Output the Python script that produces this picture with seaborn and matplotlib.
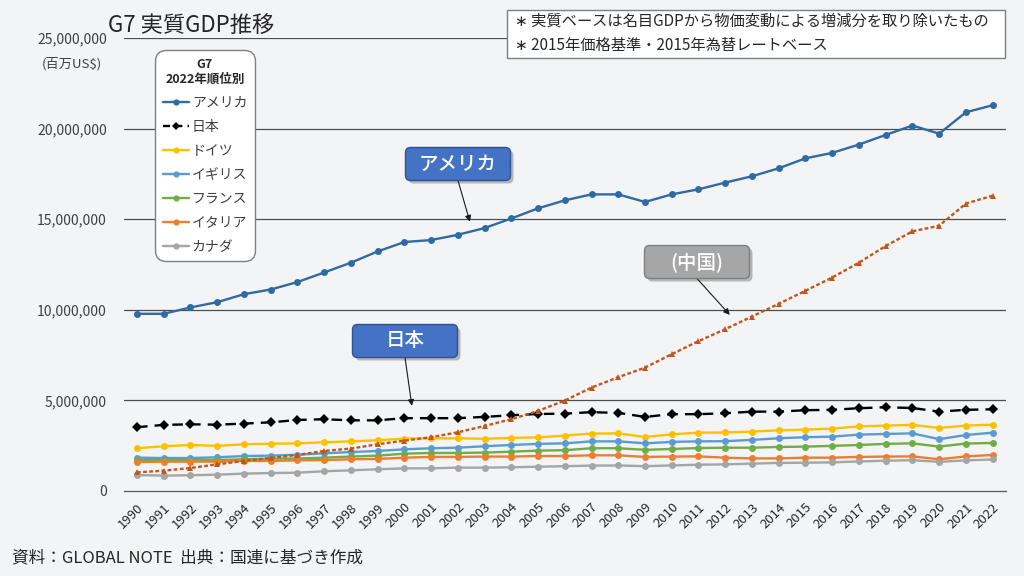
import numpy as np
import pandas as pd
import matplotlib
matplotlib.use("Agg")
import matplotlib.pyplot as plt
import seaborn as sns
from matplotlib.patches import FancyBboxPatch, Rectangle
from matplotlib.lines import Line2D

# ---------------- data (百万US$, values given in units of 1,000,000) ----------------
UNIT = 1_000_000
years = list(range(1990, 2023))
usa = [9.78, 9.78, 10.13, 10.42, 10.86, 11.12, 11.53, 12.06, 12.60, 13.22, 13.74, 13.85, 14.14,
       14.51, 15.04, 15.60, 16.04, 16.37, 16.37, 15.95, 16.37, 16.65, 17.02, 17.37, 17.81, 18.36,
       18.66, 19.12, 19.65, 20.17, 19.72, 20.90, 21.29]
japan = [3.52, 3.65, 3.68, 3.66, 3.72, 3.79, 3.92, 3.96, 3.90, 3.90, 4.02, 4.02, 4.02, 4.09, 4.18,
         4.25, 4.27, 4.35, 4.31, 4.09, 4.24, 4.24, 4.29, 4.38, 4.38, 4.46, 4.48, 4.57, 4.62, 4.58,
         4.38, 4.48, 4.51]
china = [1.03, 1.12, 1.27, 1.47, 1.66, 1.82, 1.99, 2.21, 2.34, 2.58, 2.78, 2.97, 3.24, 3.59, 3.96,
         4.42, 4.99, 5.71, 6.28, 6.81, 7.55, 8.27, 8.93, 9.63, 10.33, 11.05, 11.78, 12.60, 13.52,
         14.33, 14.64, 15.86, 16.30]
germany = [2.36, 2.47, 2.54, 2.49, 2.58, 2.61, 2.63, 2.69, 2.74, 2.80, 2.89, 2.91, 2.91, 2.88, 2.93,
           2.96, 3.06, 3.17, 3.18, 2.98, 3.13, 3.22, 3.23, 3.28, 3.35, 3.39, 3.44, 3.57, 3.61, 3.65,
           3.48, 3.61, 3.66]
uk = [1.84, 1.82, 1.82, 1.86, 1.93, 1.95, 2.00, 2.08, 2.15, 2.21, 2.30, 2.36, 2.39, 2.47, 2.54,
      2.60, 2.63, 2.74, 2.74, 2.63, 2.71, 2.74, 2.75, 2.82, 2.91, 2.97, 3.00, 3.11, 3.15, 3.18,
      2.86, 3.09, 3.22]
france = [1.71, 1.71, 1.71, 1.71, 1.75, 1.79, 1.79, 1.84, 1.90, 1.95, 2.06, 2.10, 2.10, 2.12, 2.17,
          2.23, 2.25, 2.36, 2.36, 2.27, 2.32, 2.37, 2.39, 2.39, 2.43, 2.45, 2.49, 2.54, 2.60, 2.63,
          2.45, 2.62, 2.65]
italy = [1.60, 1.62, 1.62, 1.62, 1.66, 1.66, 1.69, 1.71, 1.75, 1.77, 1.84, 1.88, 1.88, 1.90, 1.90,
         1.93, 1.93, 1.97, 1.97, 1.88, 1.90, 1.91, 1.84, 1.80, 1.80, 1.84, 1.84, 1.88, 1.90, 1.91,
         1.75, 1.91, 1.99]
canada = [0.88, 0.85, 0.87, 0.90, 0.96, 0.99, 1.01, 1.09, 1.14, 1.20, 1.25, 1.25, 1.29, 1.29, 1.31,
          1.34, 1.37, 1.40, 1.41, 1.37, 1.41, 1.45, 1.47, 1.51, 1.55, 1.56, 1.58, 1.63, 1.67, 1.70,
          1.61, 1.69, 1.74]

countries = ["アメリカ", "日本", "ドイツ", "イギリス", "フランス", "イタリア", "カナダ", "中国"]
series = [usa, japan, germany, uk, france, italy, canada, china]
legend_countries = countries[:7]
y_ticks = [0, 5_000_000, 10_000_000, 15_000_000, 20_000_000, 25_000_000]

# ---------------- styles ----------------
palette = {"アメリカ": "#2F6AA3", "日本": "#000000", "ドイツ": "#FFC000", "イギリス": "#5B9BD5",
           "フランス": "#70AD47", "イタリア": "#ED7D31", "カナダ": "#A5A5A5", "中国": "#C0561A"}
markers = {"アメリカ": "o", "日本": "D", "ドイツ": "o", "イギリス": "o", "フランス": "o",
           "イタリア": "o", "カナダ": "o", "中国": "^"}
dashes = {"アメリカ": "", "日本": (4.5, 3), "ドイツ": "", "イギリス": "", "フランス": "",
          "イタリア": "", "カナダ": "", "中国": (1.6, 1.0)}

rows = []
for c, vals in zip(countries, series):
    for i, (yr, v) in enumerate(zip(years, vals)):
        rows.append({"country": c, "idx": i, "gdp": v * UNIT})
df = pd.DataFrame(rows)

BG = "#F3F4F6"
sns.set_theme(style="white")
plt.rcParams["font.family"] = ["Noto Sans CJK JP", "DejaVu Sans"]
plt.rcParams["axes.unicode_minus"] = False

W, H = 1024, 576
fig = plt.figure(figsize=(W / 100, H / 100), dpi=100, facecolor=BG)
ax = fig.add_axes([123.6 / W, 1 - 491 / H, (1006 - 123.6) / W, (491 - 38) / H])
ax.set_facecolor(BG)

sns.lineplot(data=df, x="idx", y="gdp", hue="country", style="country", hue_order=countries,
             style_order=countries, palette=palette, markers=markers, dashes=dashes,
             linewidth=1.7, markersize=5, markeredgewidth=0, legend=False, ax=ax, zorder=3)

ax.set_xlim(-0.5, len(years) - 0.5)
ax.set_ylim(0, 25_000_000)
ax.set_yticks(y_ticks)
ax.set_yticklabels([f"{v:,}" for v in y_ticks], fontsize=10, color="#404040")
for v in y_ticks[1:]:
    ax.axhline(v, color="#4D4D4D", lw=0.9, zorder=1)
ax.set_xticks(range(len(years)))
ax.set_xticklabels([str(y) for y in years], rotation=45, ha="right", va="top",
                   rotation_mode="anchor", fontsize=9.5, color="#262626")
ax.set_xticks(np.arange(-0.5, len(years), 1.0), minor=True)
ax.tick_params(axis="x", which="major", length=0, pad=7)
ax.tick_params(axis="x", which="minor", length=5, color="#595959", width=0.9, direction="out")
ax.tick_params(axis="y", length=0, pad=12)
ax.set_xlabel("")
ax.set_ylabel("")
for s in ["top", "right", "left"]:
    ax.spines[s].set_visible(False)
ax.spines["bottom"].set_color("#595959")
ax.spines["bottom"].set_linewidth(0.9)
ax.grid(False)

# ---------------- legend ----------------
handles = []
for c in legend_countries:
    ls = "-" if c != "日本" else (0, (3, 2.2))
    handles.append(Line2D([0], [0], color=palette[c], lw=1.7, linestyle=ls, marker=markers[c],
                          markersize=4.5, markeredgewidth=0))
leg = fig.legend(handles, legend_countries, title="G7\n2022年順位別", loc="upper left",
                 bbox_to_anchor=(155 / W, 1 - 50 / H), fontsize=10, title_fontsize=9,
                 frameon=True, fancybox=True, labelspacing=0.72, handlelength=1.9,
                 handletextpad=0.2, borderpad=0.55, borderaxespad=0)
leg.get_title().set_fontweight("bold")
leg.get_title().set_multialignment("center")
leg.get_frame().set_facecolor("white")
leg.get_frame().set_edgecolor("#7F7F7F")
leg.get_frame().set_linewidth(1.0)
leg.get_frame().set_alpha(1)
leg.get_frame().set_boxstyle("round,pad=0,rounding_size=0.8")
for t in leg.get_texts():
    t.set_color("#404040")

# ---------------- titles / notes ----------------
fig.text(108 / W, 1 - 25 / H, "G7 実質GDP推移", fontsize=16, color="#262626", va="center", ha="left")
fig.text(72 / W, 1 - 64 / H, "(百万US$)", fontsize=9.5, color="#404040", va="center", ha="center")
fig.text(12 / W, 1 - 558 / H, "資料：GLOBAL NOTE  出典：国連に基づき作成", fontsize=12,
         color="#262626", va="center", ha="left")

fig.patches.append(Rectangle((507 / W, 1 - 58 / H), (1005 - 507) / W, 48 / H,
                             transform=fig.transFigure, facecolor="white", edgecolor="#7F7F7F",
                             lw=1.0, zorder=5))
fig.text(515 / W, 1 - 21 / H, "∗ 実質ベースは名目GDPから物価変動による増減分を取り除いたもの",
         fontsize=11, color="#262626", va="center", ha="left", zorder=6)
fig.text(515 / W, 1 - 45 / H, "∗ 2015年価格基準・2015年為替レートベース",
         fontsize=11, color="#262626", va="center", ha="left", zorder=6)

# ---------------- callouts ----------------
def px2fig(x, y):
    return x / W, 1 - y / H

def callout(text, cx, cy, tip, fc, ec):
    w, h = 105, 33
    x0, y0 = px2fig(cx - w / 2, cy + h / 2)
    sh = FancyBboxPatch((x0 + 3 / W, y0 - 3 / H), w / W, h / H,
                        boxstyle="round,pad=0,rounding_size=0.005", mutation_aspect=W / H,
                        transform=fig.transFigure, facecolor="#000000", alpha=0.25,
                        edgecolor="none", zorder=6)
    fig.patches.append(sh)
    box = FancyBboxPatch((x0, y0), w / W, h / H,
                         boxstyle="round,pad=0,rounding_size=0.005", mutation_aspect=W / H,
                         transform=fig.transFigure, facecolor=fc, edgecolor=ec, lw=1.0, zorder=7)
    fig.patches.append(box)
    fig.text(cx / W, 1 - cy / H, text, fontsize=14, color="white", ha="center", va="center",
             fontweight="medium", zorder=8)
    ax.annotate("", xy=tip, xycoords="data", xytext=px2fig(cx, cy + h / 2),
                textcoords="figure fraction",
                arrowprops=dict(arrowstyle="-|>", color="#1A1A1A", lw=0.8, mutation_scale=9,
                                shrinkA=0, shrinkB=0), zorder=8)

callout("アメリカ", 458, 164, (12.45, 14.86e6), "#4472C4", "#2F528F")
callout("(中国)", 697, 262, (22.17, 9.72e6), "#A6A6A6", "#7F7F7F")
callout("日本", 405, 341, (10.28, 4.70e6), "#4472C4", "#2F528F")

fig.savefig("out.png", dpi=100, facecolor=BG)
